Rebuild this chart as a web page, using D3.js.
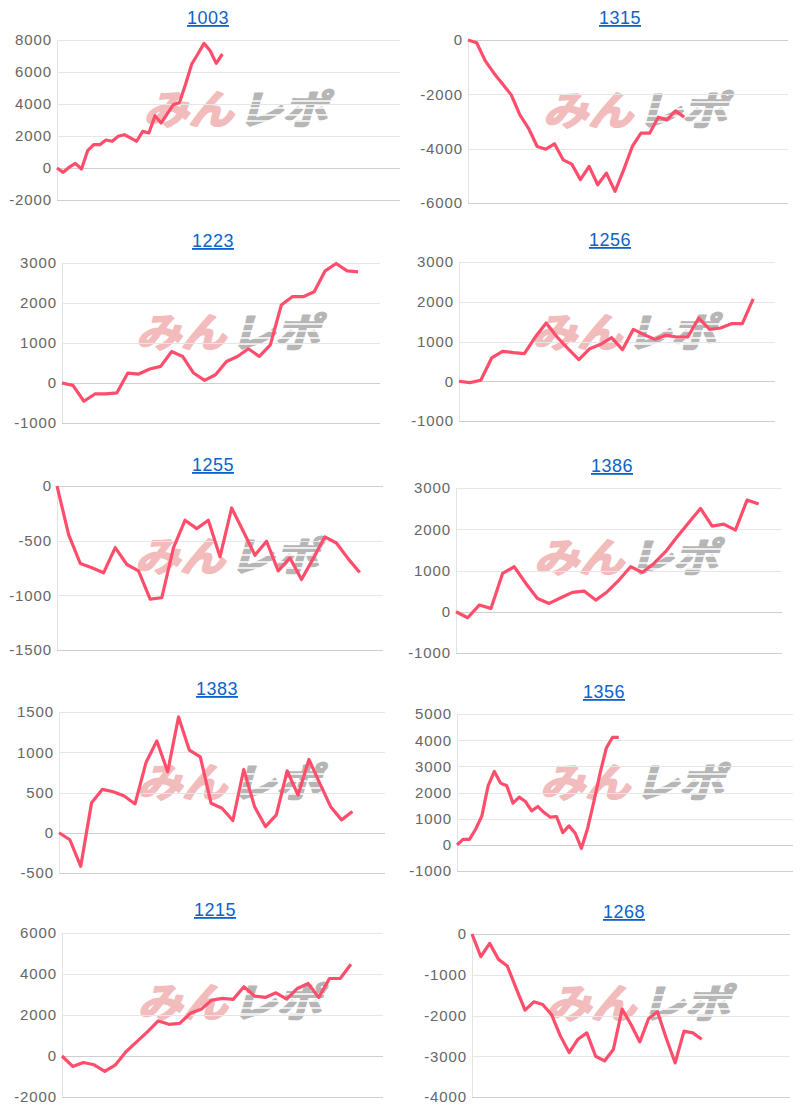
<!DOCTYPE html>
<html>
<head>
<meta charset="utf-8">
<script src="https://cdn.jsdelivr.net/npm/d3@7"></script>
<style>
  body { margin: 0; background: #fff; }
  svg { display: block; }
</style>
</head>
<body>
<div id="chart"></div>
<script>
// タイトル（台番号）
const titles = ['1003', '1315', '1223', '1256', '1255', '1386', '1383', '1356', '1215', '1268'];

// 差枚の推移
const s1003 = [0, -270, 50, 290, -60, 1080, 1460, 1460, 1750, 1670, 1980, 2080, 1880, 1670, 2290, 2190, 3270, 2810, 3380, 3960, 4100, 5250, 6500, 7125, 7790, 7330, 6540, 7125];
const s1315 = [0, -100, -770, -1220, -1620, -2020, -2760, -3250, -3920, -4020, -3820, -4410, -4570, -5140, -4650, -5330, -4900, -5570, -4780, -3920, -3430, -3430, -2840, -2940, -2610, -2840];
const s1223 = [0, -58, -456, -274, -274, -249, 249, 224, 349, 415, 789, 664, 249, 66, 207, 539, 664, 855, 664, 954, 1950, 2158, 2158, 2282, 2805, 2988, 2805, 2780];
const s1256 = [0, -33, 25, 586, 753, 720, 695, 1113, 1464, 1113, 820, 544, 820, 929, 1096, 795, 1305, 1172, 1054, 1155, 1113, 1113, 1590, 1305, 1339, 1448, 1448, 2075];
const s1255 = [0, -444, -709, -748, -794, -563, -718, -776, -1035, -1022, -566, -313, -390, -313, -648, -201, -414, -633, -505, -776, -657, -855, -664, -466, -521, -664, -791];
const s1386 = [0, -145, 162, 81, 929, 1091, 687, 323, 202, 339, 469, 501, 283, 485, 768, 1091, 954, 1172, 1455, 1818, 2166, 2505, 2077, 2125, 1980, 2707, 2610];
const s1383 = [0, -87, -417, 374, 539, 510, 456, 358, 869, 1141, 758, 1438, 1026, 943, 366, 304, 152, 786, 324, 77, 221, 769, 469, 910, 613, 324, 160, 263];
const s1356 = [0, 212, 212, 596, 1107, 2257, 2806, 2359, 2257, 1592, 1822, 1656, 1298, 1464, 1234, 1056, 1082, 469, 724, 443, -132, 635, 1656, 2742, 3700, 4109, 4109];
const s1215 = [0, -510, -316, -429, -753, -429, 219, 704, 1190, 1708, 1547, 1595, 2081, 2275, 2729, 2810, 2761, 3376, 2923, 2858, 3085, 2777, 3295, 3538, 2858, 3781, 3781, 4477];
const s1268 = [0, -557, -230, -623, -787, -1336, -1869, -1664, -1730, -1975, -2500, -2910, -2582, -2426, -3000, -3115, -2836, -1844, -2221, -2648, -2074, -1910, -2566, -3164, -2385, -2426, -2582];

const seriesList = [s1003, s1315, s1223, s1256, s1255, s1386, s1383, s1356, s1215, s1268];

// x軸のカテゴリ数と y軸の範囲・目盛り間隔
const slots = [57, 38, 30, 30, 29, 29, 31, 55, 31, 37];
const yMin  = [-2000, -6000, -1000, -1000, -1500, -1000, -500, -1000, -2000, -4000];
const yMax  = [8000, 0, 3000, 3000, 0, 3000, 1500, 5000, 6000, 0];
const yStep = [2000, 2000, 1000, 1000, 500, 1000, 500, 1000, 2000, 1000];

// 各パネルの描画領域 [left, top, right, bottom, titleX, titleY, markY]
const frames = [
  [57, 40, 400, 200, 208, 24, 109],
  [468, 40, 788, 203, 620, 24, 110],
  [62, 263, 380, 423, 213, 247, 332],
  [459, 262, 775, 421, 610, 246, 332],
  [57, 486, 383, 650, 213, 471, 556],
  [456, 488, 782, 653, 612, 472, 557],
  [59, 712, 385, 873, 217, 695, 782],
  [457, 714, 793, 871, 604, 698, 782],
  [62, 933, 383, 1097, 215, 916, 1002],
  [472, 934, 790, 1097, 624, 918, 1003]
];

const svg = d3.select('#chart')
  .append('svg')
  .attr('width', 800)
  .attr('height', 1110)
  .style('font-family', '"Liberation Sans", Arial, sans-serif');

seriesList.forEach((values, k) => {
  const [left, top, right, bottom, tx, ty, my] = frames[k];
  const g = svg.append('g');

  const x = d3.scaleLinear().domain([0, slots[k] - 1]).range([left, right]);
  const y = d3.scaleLinear().domain([yMin[k], yMax[k]]).range([bottom, top]);
  const ticks = d3.range(yMin[k], yMax[k] + 1, yStep[k]);

  // ウォーターマーク
  const mx = (left + right) / 2 + 10;
  const mark = g.append('g').attr('transform', `translate(${mx},${my}) scale(1.12,1)`);
  const markText = (str, anchor, dx, color) => mark.append('text')
    .attr('x', dx)
    .attr('y', 15)
    .attr('text-anchor', anchor)
    .attr('transform', 'skewX(-14)')
    .style('font-size', '40px')
    .style('font-weight', 'bold')
    .style('font-family', '"Noto Sans CJK JP", sans-serif')
    .style('fill', color)
    .style('stroke', color)
    .style('stroke-width', 2)
    .style('stroke-linejoin', 'round')
    .text(str);
  markText('みん', 'end', -1, '#f2bcbc');
  markText('レポ', 'start', 3, '#b6b6b6');
  [-8, -1, 6, 12].forEach(dy => {
    mark.append('line')
      .attr('x1', 0).attr('x2', 92)
      .attr('y1', dy).attr('y2', dy)
      .style('stroke', '#fff')
      .style('stroke-width', 1.4);
  });

  // グリッド線
  g.selectAll('.grid')
    .data(ticks)
    .enter().append('line')
    .attr('x1', left)
    .attr('x2', right)
    .attr('y1', d => Math.round(y(d)) + 0.5)
    .attr('y2', d => Math.round(y(d)) + 0.5)
    .style('stroke', d => (d === 0 || d === yMin[k]) ? '#cfcfcf' : '#e6e6e6')
    .style('stroke-width', 1);

  g.append('line')
    .attr('x1', left + 0.5).attr('x2', left + 0.5)
    .attr('y1', top).attr('y2', bottom)
    .style('stroke', '#e3e3e3');

  // 目盛りラベル
  g.selectAll('.tick')
    .data(ticks)
    .enter().append('text')
    .attr('x', left - 5)
    .attr('y', d => y(d))
    .attr('dy', '0.36em')
    .attr('text-anchor', 'end')
    .style('font-size', '15px')
    .style('letter-spacing', '0.9px')
    .style('fill', '#666')
    .text(d => d);

  // 折れ線
  const line = d3.line()
    .x((d, i) => x(i))
    .y(d => y(d));

  g.append('path')
    .datum(values)
    .attr('d', line)
    .style('fill', 'none')
    .style('stroke', '#ff4d6b')
    .style('stroke-width', 3.2)
    .style('stroke-linejoin', 'round');

  // タイトル
  g.append('text')
    .attr('x', tx)
    .attr('y', ty)
    .attr('text-anchor', 'middle')
    .style('font-size', '18px')
    .style('letter-spacing', '0.5px')
    .style('fill', '#0b63c9')
    .style('text-decoration', 'underline')
    .text(titles[k]);
});
</script>
</body>
</html>
